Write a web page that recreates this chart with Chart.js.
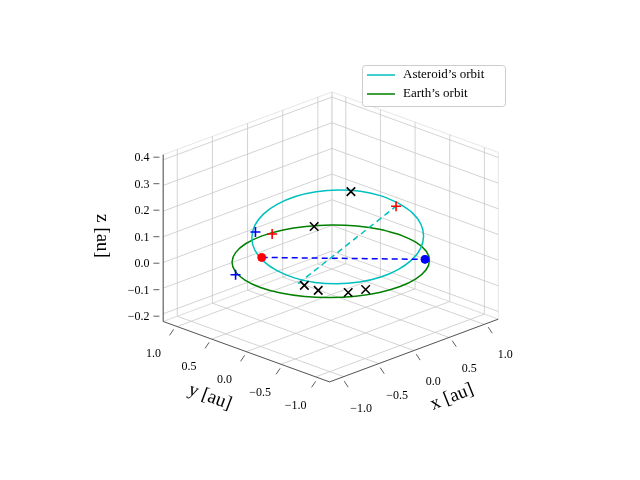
<!DOCTYPE html>
<html><head><meta charset="utf-8">
<script src="https://cdn.jsdelivr.net/npm/chart.js@4/dist/chart.umd.min.js"></script>
<style>body{margin:0;background:#fff}</style></head>
<body><canvas id="c" width="640" height="480"></canvas>
<script>
// 3D data (au)
const earthOrbit = [[1,0,0],[0.966,0.259,0],[0.866,0.5,0],[0.707,0.707,0],[0.5,0.866,0],[0.259,0.966,0],[0,1,0],[-0.259,0.966,0],[-0.5,0.866,0],[-0.707,0.707,0],[-0.866,0.5,0],[-0.966,0.259,0],[-1,0,0],[-0.966,-0.259,0],[-0.866,-0.5,0],[-0.707,-0.707,0],[-0.5,-0.866,0],[-0.259,-0.966,0],[0,-1,0],[0.259,-0.966,0],[0.5,-0.866,0],[0.707,-0.707,0],[0.866,-0.5,0],[0.966,-0.259,0],[1,0,0]];
const asteroidOrbit = [[0.92,-0.05,0.137],[0.890,0.175,0.147],[0.803,0.385,0.153],[0.665,0.565,0.155],[0.485,0.703,0.153],[0.275,0.790,0.147],[0.05,0.82,0.137],[-0.175,0.790,0.125],[-0.385,0.703,0.111],[-0.565,0.565,0.095],[-0.703,0.385,0.079],[-0.790,0.175,0.065],[-0.82,-0.05,0.053],[-0.790,-0.275,0.043],[-0.703,-0.485,0.037],[-0.565,-0.665,0.035],[-0.385,-0.803,0.037],[-0.175,-0.890,0.043],[0.05,-0.92,0.053],[0.275,-0.890,0.065],[0.485,-0.803,0.079],[0.665,-0.665,0.095],[0.803,-0.485,0.111],[0.890,-0.275,0.125],[0.92,-0.05,0.137]];
const blackX = [[0.82,0.54,0.135],[0.06,0.3,0.1],[-0.75,-0.38,0.02],[-0.75,-0.58,0.02],[-0.58,-0.84,0.02],[-0.45,-0.96,0.03]];
const redDot = [[-0.41,0.58,0]];
const blueDot = [[0.70,-0.65,0]];
const redPlus = [[-0.38,0.46,0.1],[0.88,-0.05,0.13]];
const bluePlus = [[-0.46,0.62,0.1],[-0.93,0.43,0]];
const cyanDash = [[-0.66,-0.20,0],[0.88,-0.05,0.13]];
const blueDash = [[-0.41,0.58,0],[0.70,-0.65,0]];
const xTicks = [-1,-0.5,0,0.5,1], yTicks = [-1,-0.5,0,0.5,1], zTicks = [-0.2,-0.1,0,0.1,0.2,0.3,0.4];
const xLabels = ['\u22121.0','\u22120.5','0.0','0.5','1.0'], yLabels = xLabels;
const zLabels = ['\u22120.2','\u22120.1','0.0','0.1','0.2','0.3','0.4'];
const L = 1.2, Z0 = -0.23, Z1 = 0.42;

function P(p){return {x:331+72*p[0]-71*p[1], y:262-27*p[0]-26*p[1]-265*p[2]};}
const pts = a => a.map(P);
const ds = [];
function line(a,color,w,order,dash,fill){ds.push({data:pts(a),showLine:true,borderColor:color,borderWidth:w,pointRadius:0,order:order,borderDash:dash||[],fill:fill?true:false,backgroundColor:fill||'transparent',tension:0});}
line([[-L,L,Z0],[L,L,Z0],[L,L,Z1],[-L,L,Z1],[-L,L,Z0]],'#e0e0e0',0.8,100,null,'#e9e9e9');
line([[L,L,Z0],[L,-L,Z0],[L,-L,Z1],[L,L,Z1],[L,L,Z0]],'#e0e0e0',0.8,100,null,'#f4f4f4');
line([[-L,-L,Z0],[L,-L,Z0],[L,L,Z0],[-L,L,Z0],[-L,-L,Z0]],'#e0e0e0',0.8,100,null,'#eeeeee');
xTicks.forEach(v=>{line([[v,-L,Z0],[v,L,Z0],[v,L,Z1]],'#c8c8c8',0.8,90);});
yTicks.forEach(v=>{line([[-L,v,Z0],[L,v,Z0],[L,v,Z1]],'#c8c8c8',0.8,90);});
zTicks.forEach(v=>{line([[-L,L,v],[L,L,v],[L,-L,v]],'#c8c8c8',0.8,90);});
line([[-L,-L,Z0],[L,-L,Z0]],'#333',0.8,80);
line([[-L,-L,Z0],[-L,L,Z0]],'#333',0.8,80);
line([[-L,L,Z0],[-L,L,Z1]],'#333',0.8,80);
ds.push({data:pts(asteroidOrbit),showLine:true,borderColor:'#00bfbf',borderWidth:1.5,pointRadius:0,tension:0.3,order:10});
ds.push({data:pts(earthOrbit),showLine:true,borderColor:'#008000',borderWidth:1.5,pointRadius:0,tension:0.3,order:10});
line(cyanDash,'#00bfbf',1.5,9,[6,4]);
line(blueDash,'#0000ff',1.5,9,[6,4]);
function mk(a,style,color,r,w){ds.push({data:pts(a),showLine:false,pointStyle:style,pointRadius:r,borderColor:color,backgroundColor:color,pointBorderWidth:w,order:1});}
mk(blackX,'crossRot','#000',6,1.6);
mk(redPlus,'cross','#ff0000',5,1.6);
mk(bluePlus,'cross','#0000ff',5,1.6);
mk(redDot,'circle','#ff0000',4,1);
mk(blueDot,'circle','#0000ff',4,1);

const F = '"Liberation Serif","DejaVu Serif",serif';
const deco = {id:'deco',afterDraw(ch){
  const c=ch.ctx; c.save(); c.fillStyle='#000'; c.font='12px '+F; c.textAlign='center'; c.textBaseline='middle';
  c.strokeStyle='#333'; c.lineWidth=0.8;
  xTicks.forEach((v,i)=>{const p=P([v,-L,Z0]); c.beginPath();c.moveTo(p.x,p.y);c.lineTo(p.x+4,p.y+6);c.stroke(); c.fillText(xLabels[i],p.x+17,p.y+28);});
  yTicks.forEach((v,i)=>{const p=P([-L,v,Z0]); c.beginPath();c.moveTo(p.x,p.y);c.lineTo(p.x-4,p.y+6);c.stroke(); c.fillText(yLabels[i],p.x-20,p.y+24);});
  c.textAlign='right';
  zTicks.forEach((v,i)=>{const p=P([-L,L,v]); c.beginPath();c.moveTo(p.x,p.y);c.lineTo(p.x-6,p.y);c.stroke(); c.fillText(zLabels[i],p.x-10,p.y+1);});
  c.font='19px '+F; c.textAlign='center';
  c.save(); c.translate(452,397); c.rotate(-0.38); c.fillText('x [au]',0,0); c.restore();
  c.save(); c.translate(210,397); c.rotate(0.36); c.fillText('y [au]',0,0); c.restore();
  c.save(); c.translate(102,236); c.rotate(Math.PI/2); c.fillText('z [au]',0,0); c.restore();
  c.fillStyle='rgba(255,255,255,0.85)'; c.strokeStyle='#ccc'; c.lineWidth=1;
  c.beginPath(); c.roundRect(362.5,65.5,143,41,3); c.fill(); c.stroke();
  c.lineWidth=1.5; c.strokeStyle='#00bfbf'; c.beginPath(); c.moveTo(367,75); c.lineTo(395,75); c.stroke();
  c.strokeStyle='#008000'; c.beginPath(); c.moveTo(367,94); c.lineTo(395,94); c.stroke();
  c.fillStyle='#000'; c.font='13px '+F; c.textAlign='left';
  c.fillText('Asteroid\u2019s orbit',403,75); c.fillText('Earth\u2019s orbit',403,94);
  c.restore();
}};
new Chart(document.getElementById('c'),{type:'scatter',data:{datasets:ds},plugins:[deco],
 options:{responsive:false,animation:false,layout:{padding:0},
  plugins:{legend:{display:false},tooltip:{enabled:false}},
  scales:{x:{type:'linear',min:0,max:640,display:false},y:{type:'linear',min:0,max:480,reverse:true,display:false}}}});
</script></body></html>
